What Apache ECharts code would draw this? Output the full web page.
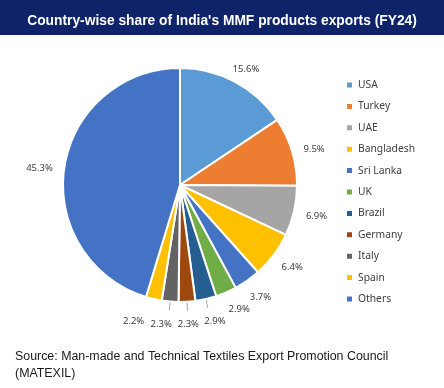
<!DOCTYPE html>
<html>
<head>
<meta charset="utf-8">
<script src="https://cdn.jsdelivr.net/npm/echarts@6/dist/echarts.min.js"></script>
<style>
html,body{margin:0;padding:0;background:#fff;}
#c{width:444px;height:388px;}
</style>
</head>
<body>
<div id="c"></div>
<script>
var countries = ['USA','Turkey','UAE','Bangladesh','Sri Lanka','UK','Brazil','Germany','Italy','Spain','Others'];
var shares = [15.6, 9.5, 6.9, 6.4, 3.7, 2.9, 2.9, 2.3, 2.3, 2.2, 45.3];
var colors = ['#5B9BD5','#ED7D31','#A5A5A5','#FFC000','#4472C4','#70AD47','#255E91','#9E480E','#636363','#FFC000','#4472C4'];
var leaderLineFor = ['Brazil','Germany','Italy'];
// small label nudges [dx, dy] mimicking the "best fit" label placement
var labelNudge = [[0,8],[0,5],[0,0],[0,-1],[0,-2],[4,-4],[4,0],[0,0],[-7,0],[-15,0],[-2,4]];
var titleText = "Country-wise share of India's MMF products exports (FY24)";
var sourceText = "Source: Man-made and Technical Textiles Export Promotion Council\n(MATEXIL)";

var chart = echarts.init(document.getElementById('c'), null, {renderer:'canvas'});
var CENTER = [180,185], R = 117;

var mainData = countries.map(function(n,i){
  var d = {name:n, value:shares[i], itemStyle:{color:colors[i]}};
  if (leaderLineFor.indexOf(n) >= 0) {
    d.label = {show:true};
    d.labelLine = {show:true};
  }
  return d;
});
var labelData = countries.map(function(n,i){
  return {name:n, value:shares[i]};
});

chart.setOption({
  animation:false,
  color: colors,
  graphic:[
    {type:'rect', left:0, top:0, z:0, shape:{width:444, height:35}, style:{fill:'#0F2468'}},
    {type:'text', left:15, top:348, z:5, style:{text:sourceText, fill:'#1a1a1a', font:'12.4px "Liberation Sans", Arial, sans-serif', lineHeight:17}}
  ],
  title:{
    text:titleText, left:'center', top:9,
    textStyle:{color:'#fff', fontSize:13.8, fontWeight:'bold', fontFamily:'"Liberation Sans", Arial, sans-serif'}
  },
  legend:{
    orient:'vertical', left:340, top:73,
    itemWidth:7, itemHeight:7, itemGap:7.4, icon:'rect',
    textStyle:{fontSize:10.3, color:'#404040', fontFamily:'"Noto Sans", sans-serif', lineHeight:14},
    data:countries
  },
  series:[{
    type:'pie',
    center:CENTER, radius:[0,R],
    startAngle:90, clockwise:true,
    avoidLabelOverlap:false,
    itemStyle:{borderColor:'#fff', borderWidth:2},
    label:{show:false, position:'outside', color:'rgba(0,0,0,0)', fontSize:1, formatter:'.'},
    labelLine:{show:false, length:9, length2:0, smooth:false, lineStyle:{color:'#A6A6A6', width:1}},
    emphasis:{disabled:true},
    data:mainData
  },{
    type:'pie',
    center:CENTER, radius:[R+11,R+29],
    startAngle:90, clockwise:true,
    silent:true,
    avoidLabelOverlap:false,
    itemStyle:{color:'rgba(0,0,0,0)', borderWidth:0},
    label:{
      show:true, position:'inside', fontSize:9.5, color:'#404040',
      fontFamily:'"Noto Sans", sans-serif',
      formatter:function(p){return p.value.toFixed(1)+'%';}
    },
    labelLayout:function(p){
      var n = labelNudge[p.dataIndex] || [0,0];
      return {hideOverlap:false, dx:n[0], dy:n[1]};
    },
    labelLine:{show:false},
    emphasis:{disabled:true},
    tooltip:{show:false},
    data:labelData
  }]
});
</script>
</body>
</html>
